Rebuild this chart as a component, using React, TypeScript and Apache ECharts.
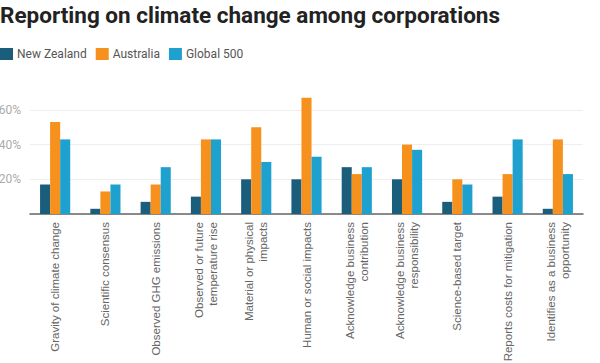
import React, { useEffect, useRef } from "react";
import * as echarts from "echarts";

const categories = [
  "Gravity of climate change",
  "Scientific consensus",
  "Observed GHG emissions",
  "Observed or future\ntemperature rise",
  "Material or physical\nimpacts",
  "Human or social impacts",
  "Acknowledge business\ncontribution",
  "Acknowledge business\nresponsibility",
  "Science-based target",
  "Reports costs for mitigation",
  "Identifies as a business\nopportunity",
];
const newZealand = [17, 3, 7, 10, 20, 20, 27, 20, 7, 10, 3];
const australia = [53, 13, 17, 43, 50, 67, 23, 40, 20, 23, 43];
const global500 = [43, 17, 27, 43, 30, 33, 27, 37, 17, 43, 23];
const seriesNames = ["New Zealand", "Australia", "Global 500"];
const colors = ["#1b5e7b", "#f7911d", "#1fa1cf"];

export default function App() {
  const ref = useRef<HTMLDivElement>(null);
  useEffect(() => {
    const chart = echarts.init(ref.current!, null, { renderer: "svg" });
    const data = [newZealand, australia, global500];
    chart.setOption({
      animation: false,
      title: {
        text: "Reporting on climate change among corporations",
        left: 0,
        top: 3,
        padding: 0,
        textStyle: { fontFamily: "Roboto", fontSize: 22.5, fontWeight: "bold", color: "#222" },
      },
      legend: {
        left: 0,
        top: 48,
        padding: 0,
        itemWidth: 13,
        itemHeight: 12,
        itemGap: 9,
        icon: "rect",
        textStyle: { fontFamily: "Roboto", fontSize: 12, color: "#555", padding: [0, 0, 0, -1] },
        data: seriesNames,
      },
      grid: { left: 30, right: 17, top: 75.2, bottom: 149, outerBoundsMode: "none", containLabel: false },
      xAxis: {
        type: "category",
        data: categories,
        axisLine: { lineStyle: { color: "#666", width: 1.5 } },
        axisTick: { show: false },
        axisLabel: {
          interval: 0,
          rotate: 90,
          margin: 8,
          fontFamily: "Liberation Sans",
          fontSize: 11.5,
          lineHeight: 13.5,
          color: "#666",
        },
      },
      yAxis: {
        type: "value",
        min: 0,
        max: 80,
        interval: 20,
        axisLine: { show: false },
        axisTick: { show: false },
        splitLine: {
          lineStyle: { color: ["#eee", "#eee", "#eee", "#eee", "rgba(0,0,0,0)"] },
        },
        axisLabel: {
          fontFamily: "Roboto",
          fontSize: 12,
          color: "#aaa",
          margin: 9,
          formatter: (v: number) => (v === 0 || v === 80 ? "" : v + "%"),
        },
      },
      series: seriesNames.map((name, i) => ({
        name,
        type: "bar",
        data: data[i],
        itemStyle: { color: colors[i] },
        barGap: "0%",
        barCategoryGap: "40%",
      })),
    });
    return () => chart.dispose();
  }, []);
  return (
    <div
      ref={ref}
      style={{ position: "fixed", left: 0, top: 0, width: 600, height: 363, background: "#fff" }}
    />
  );
}
